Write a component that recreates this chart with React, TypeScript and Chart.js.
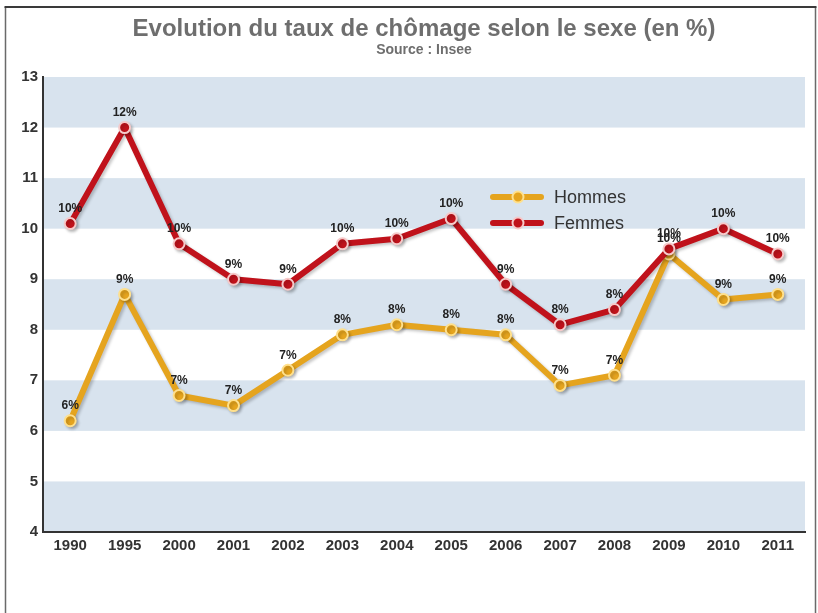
import React, { useEffect, useRef } from "react";
import { Chart, registerables } from "chart.js";

Chart.register(...registerables);

const years = ["1990", "1995", "2000", "2001", "2002", "2003", "2004", "2005", "2006", "2007", "2008", "2009", "2010", "2011"];
const hommes = [6.2, 8.7, 6.7, 6.5, 7.2, 7.9, 8.1, 8.0, 7.9, 6.9, 7.1, 9.5, 8.6, 8.7];
const femmes = [10.1, 12.0, 9.7, 9.0, 8.9, 9.7, 9.8, 10.2, 8.9, 8.1, 8.4, 9.6, 10.0, 9.5];
const seriesNames = ["Hommes", "Femmes"];
const yMin = 4;
const yMax = 13;
const titleText = "Evolution du taux de chômage selon le sexe (en %)";
const sourceText = "Source : Insee";

const FONT = "'Liberation Sans', Arial, sans-serif";
const colHommes = "#e5a41e";
const colHommesLight = "#ffe08c";
const colFemmes = "#c0121b";
const colFemmesLight = "#f6c9c9";
const bandColor = "#d8e3ee";

const decorPlugin = {
  id: "decor",
  beforeDraw(chart: any) {
    const { ctx, chartArea, scales } = chart;
    const y = scales.y;
    ctx.save();
    ctx.fillStyle = "#ffffff";
    ctx.fillRect(0, 0, chart.width, chart.height);
    // bands
    ctx.fillStyle = bandColor;
    for (let v = yMin; v < yMax; v += 2) {
      const top = y.getPixelForValue(v + 1);
      const bot = y.getPixelForValue(v);
      ctx.fillRect(chartArea.left, top, chartArea.right - chartArea.left, bot - top);
    }
    // frame
    ctx.strokeStyle = "#6a6a6a";
    ctx.lineWidth = 1.5;
    ctx.beginPath();
    ctx.moveTo(5.5, chart.height);
    ctx.lineTo(5.5, 7);
    ctx.moveTo(815.5, 7);
    ctx.lineTo(815.5, chart.height);
    ctx.stroke();
    ctx.strokeStyle = "#3a3a3a";
    ctx.lineWidth = 2;
    ctx.beginPath();
    ctx.moveTo(4.5, 7);
    ctx.lineTo(816.5, 7);
    ctx.stroke();
    // title
    const cx = (chartArea.left + chartArea.right) / 2;
    ctx.textAlign = "center";
    ctx.textBaseline = "middle";
    ctx.fillStyle = "#6e6e6e";
    ctx.font = `bold 24px ${FONT}`;
    ctx.fillText(titleText, cx, 29);
    ctx.font = `bold 14px ${FONT}`;
    ctx.fillStyle = "#6e6e6e";
    ctx.fillText(sourceText, cx, 50);
    ctx.restore();
  },
};

const shadowPlugin = {
  id: "shadow",
  beforeDatasetDraw(chart: any) {
    const ctx = chart.ctx;
    ctx.save();
    ctx.shadowColor = "rgba(0,0,0,0.22)";
    ctx.shadowBlur = 3;
    ctx.shadowOffsetX = 2;
    ctx.shadowOffsetY = 2;
  },
  afterDatasetDraw(chart: any) {
    chart.ctx.restore();
  },
};

const labelsPlugin = {
  id: "valueLabels",
  afterDatasetsDraw(chart: any) {
    const { ctx } = chart;
    ctx.save();
    ctx.font = `bold 12px ${FONT}`;
    ctx.fillStyle = "#222222";
    ctx.textAlign = "center";
    ctx.textBaseline = "middle";
    chart.data.datasets.forEach((ds: any, i: number) => {
      const meta = chart.getDatasetMeta(i);
      meta.data.forEach((pt: any, j: number) => {
        const v = ds.data[j];
        ctx.fillText(Math.round(v) + "%", pt.x, pt.y - 15);
      });
    });
    ctx.restore();
  },
  afterDraw(chart: any) {
    const { ctx, chartArea } = chart;
    ctx.save();
    chart.data.datasets.forEach((ds: any, i: number) => {
      const x0 = chartArea.left + 450;
      const yy = chartArea.top + 120 + i * 26;
      ctx.strokeStyle = ds.borderColor;
      ctx.lineWidth = 6;
      ctx.lineCap = "round";
      ctx.beginPath();
      ctx.moveTo(x0, yy);
      ctx.lineTo(x0 + 48, yy);
      ctx.stroke();
      ctx.beginPath();
      ctx.arc(x0 + 25, yy, 5.5, 0, Math.PI * 2);
      ctx.fillStyle = ds.pointBackgroundColor;
      ctx.fill();
      ctx.lineWidth = 2;
      ctx.strokeStyle = ds.pointBorderColor;
      ctx.stroke();
      ctx.font = `18px ${FONT}`;
      ctx.fillStyle = "#333333";
      ctx.textAlign = "left";
      ctx.textBaseline = "middle";
      ctx.fillText(ds.label, x0 + 61, yy + 1);
    });
    ctx.restore();
  },
};

export default function App() {
  const ref = useRef<HTMLCanvasElement | null>(null);
  useEffect(() => {
    if (!ref.current) return;
    const chart = new Chart(ref.current, {
      type: "line",
      data: {
        labels: years,
        datasets: [
          {
            label: seriesNames[0],
            data: hommes,
            borderColor: colHommes,
            backgroundColor: colHommes,
            pointBackgroundColor: colHommes,
            pointBorderColor: colHommesLight,
            borderWidth: 6,
            pointRadius: 5.5,
            pointBorderWidth: 2,
            borderJoinStyle: "round",
            borderCapStyle: "round",
            tension: 0,
            order: 1,
          },
          {
            label: seriesNames[1],
            data: femmes,
            borderColor: colFemmes,
            backgroundColor: colFemmes,
            pointBackgroundColor: colFemmes,
            pointBorderColor: colFemmesLight,
            borderWidth: 6,
            pointRadius: 5.5,
            pointBorderWidth: 2,
            borderJoinStyle: "round",
            borderCapStyle: "round",
            tension: 0,
            order: 0,
          },
        ],
      },
      options: {
        responsive: false,
        animation: false,
        devicePixelRatio: 1,
        layout: { padding: { top: 77, left: 0, right: 13, bottom: 51 } },
        plugins: {
          legend: { display: false },
          title: { display: false },
          tooltip: { enabled: false },
        },
        scales: {
          x: {
            offset: true,
            grid: { display: false, drawTicks: false },
            border: { display: true, color: "#333333", width: 2 },
            ticks: {
              color: "#333333",
              font: { family: FONT, size: 15, weight: "bold" },
              padding: 5,
              autoSkip: false,
              maxRotation: 0,
            },
            afterFit(scale: any) {
              scale.height = 30;
            },
          },
          y: {
            min: yMin,
            max: yMax,
            grid: { display: false, drawTicks: false },
            border: { display: true, color: "#333333", width: 2 },
            ticks: {
              stepSize: 1,
              color: "#333333",
              font: { family: FONT, size: 15, weight: "bold" },
              padding: 5,
            },
            afterFit(scale: any) {
              scale.width = 43;
            },
          },
        },
      } as any,
      plugins: [decorPlugin, shadowPlugin, labelsPlugin],
    });
    return () => chart.destroy();
  }, []);
  return (
    <div style={{ position: "absolute", left: 0, top: 0, width: 818, height: 613 }}>
      <canvas ref={ref} width={818} height={613} style={{ display: "block" }} />
    </div>
  );
}
